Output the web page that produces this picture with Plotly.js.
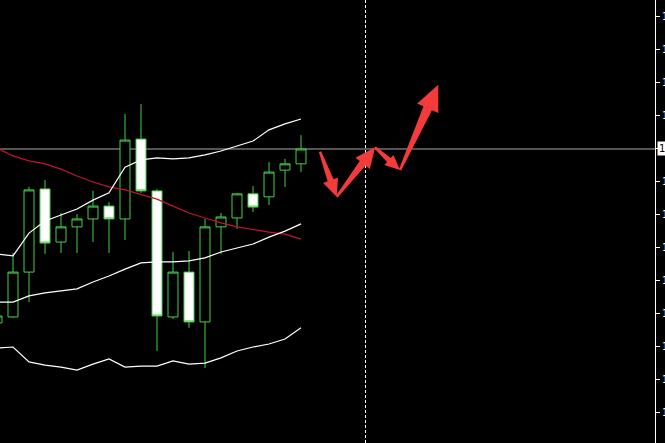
<!DOCTYPE html>
<html>
<head>
<meta charset="utf-8">
<script src="https://cdn.plot.ly/plotly-3.0.1.min.js"></script>
<style>
  html, body { margin: 0; padding: 0; background: #000; overflow: hidden; }
  #chart { width: 665px; height: 443px; }
</style>
</head>
<body>
<div id="chart"></div>
<script>
// bar index (one step = one candle)
const barIndex = [0, 1, 2, 3, 4, 5, 6, 7, 8, 9, 10, 11, 12, 13, 14, 15, 16, 17, 18, 19];

const opens  = [1.12670, 1.12688, 1.12824, 1.13076, 1.12915, 1.12961, 1.12985, 1.13024, 1.12985, 1.13227,
                1.13070, 1.12688, 1.12824, 1.12673, 1.12961, 1.12988, 1.13061, 1.13052, 1.13133, 1.13152];
const highs  = [1.12697, 1.12882, 1.13082, 1.13103, 1.13003, 1.13000, 1.13070, 1.13036, 1.13303, 1.13333,
                1.13076, 1.12885, 1.12888, 1.12985, 1.13003, 1.13064, 1.13085, 1.13158, 1.13167, 1.13239];
const lows   = [1.12661, 1.12685, 1.12733, 1.12879, 1.12882, 1.12882, 1.12915, 1.12882, 1.12921, 1.13064,
                1.12585, 1.12682, 1.12655, 1.12533, 1.12879, 1.12955, 1.13006, 1.13027, 1.13082, 1.13127];
const closes = [1.12691, 1.12824, 1.13073, 1.12912, 1.12961, 1.12985, 1.13024, 1.12985, 1.13224, 1.13070,
                1.12691, 1.12824, 1.12673, 1.12961, 1.12991, 1.13061, 1.13021, 1.13127, 1.13152, 1.13197];

// Bollinger bands
const bandUpper  = [1.12879, 1.12873, 1.12942, 1.12979, 1.12997, 1.13015, 1.13042, 1.13064, 1.13142, 1.13164,
                    1.13170, 1.13167, 1.13170, 1.13179, 1.13191, 1.13206, 1.13221, 1.13255, 1.13273, 1.13288];
const bandMiddle = [1.12733, 1.12733, 1.12752, 1.12761, 1.12767, 1.12773, 1.12794, 1.12812, 1.12833, 1.12852,
                    1.12855, 1.12855, 1.12858, 1.12867, 1.12885, 1.12897, 1.12909, 1.12930, 1.12948, 1.12970];
const bandLower  = [1.12594, 1.12597, 1.12552, 1.12542, 1.12536, 1.12527, 1.12545, 1.12561, 1.12536, 1.12539,
                    1.12539, 1.12555, 1.12545, 1.12548, 1.12564, 1.12585, 1.12597, 1.12606, 1.12621, 1.12655];

// slow moving average (red)
const movingAvg  = [1.13200, 1.13176, 1.13161, 1.13152, 1.13136, 1.13115, 1.13097, 1.13082, 1.13073, 1.13058,
                    1.13045, 1.13024, 1.13003, 1.12988, 1.12973, 1.12961, 1.12952, 1.12945, 1.12939, 1.12924];

// hand drawn forecast arrows: waypoints, each arrow goes from one point to the next
const arrowX = [20.19, 21.23, 23.63, 25.19, 27.58];
const arrowY = [1.13189, 1.13052, 1.13202, 1.13133, 1.13392];

const separatorBar = 23;
const priceTicks = [1.136, 1.135, 1.134, 1.133, 1.132, 1.131, 1.130, 1.129, 1.128, 1.127, 1.126, 1.125, 1.124];

const X_RANGE = [0.1875, 41.125];
const Y_RANGE = [1.1230606, 1.1364848];
const PLOT_W = 655;
const PLOT_H = 443;

document.addEventListener("DOMContentLoaded", () => {
  renderChart();
});

// pixel <-> data helpers, used only to shape the arrow polygons
function toPx(x, y) {
  return [
    ((x - X_RANGE[0]) / (X_RANGE[1] - X_RANGE[0])) * PLOT_W,
    ((Y_RANGE[1] - y) / (Y_RANGE[1] - Y_RANGE[0])) * PLOT_H,
  ];
}

function toData(px, py) {
  return [
    X_RANGE[0] + (px / PLOT_W) * (X_RANGE[1] - X_RANGE[0]),
    Y_RANGE[1] - (py / PLOT_H) * (Y_RANGE[1] - Y_RANGE[0]),
  ];
}

function arrowPath(x0, y0, x1, y1) {
  const [tx, ty] = toPx(x0, y0);
  const [px, py] = toPx(x1, y1);
  const len = Math.hypot(px - tx, py - ty);
  const ux = (px - tx) / len;
  const uy = (py - ty) / len;
  const nx = -uy;
  const ny = ux;

  const headLen = 9 + 0.18 * len;
  const headW = 0.9 * headLen;
  const shaftW = 0.4 * headW;
  const tailW = 2.5;
  const bx = px - ux * headLen;
  const by = py - uy * headLen;

  const pts = [
    [tx + (nx * tailW) / 2, ty + (ny * tailW) / 2],
    [bx + (nx * shaftW) / 2, by + (ny * shaftW) / 2],
    [bx + (nx * headW) / 2, by + (ny * headW) / 2],
    [px, py],
    [bx - (nx * headW) / 2, by - (ny * headW) / 2],
    [bx - (nx * shaftW) / 2, by - (ny * shaftW) / 2],
    [tx - (nx * tailW) / 2, ty - (ny * tailW) / 2],
  ].map(([a, b]) => toData(a, b));

  return "M" + pts.map((p) => p[0] + "," + p[1]).join(" L") + " Z";
}

function renderChart() {
  const lastClose = closes[closes.length - 1];
  // half a pixel so the dashed separator lands on a whole pixel column
  const halfPx = (0.5 / PLOT_W) * (X_RANGE[1] - X_RANGE[0]);

  const candles = {
    type: "candlestick",
    x: barIndex,
    open: opens,
    high: highs,
    low: lows,
    close: closes,
    increasing: { line: { color: "#44d044", width: 1 }, fillcolor: "#000000" },
    decreasing: { line: { color: "#44d044", width: 1 }, fillcolor: "#ffffff" },
    whiskerwidth: 0,
    hoverinfo: "skip",
    showlegend: false,
  };

  const lineTrace = (values, color) => ({
    type: "scatter",
    mode: "lines",
    x: barIndex,
    y: values,
    line: { color: color, width: 1.2 },
    hoverinfo: "skip",
    showlegend: false,
  });

  const arrowShapes = [];
  for (let i = 0; i < arrowX.length - 1; i++) {
    arrowShapes.push({
      type: "path",
      xref: "x",
      yref: "y",
      path: arrowPath(arrowX[i], arrowY[i], arrowX[i + 1], arrowY[i + 1]),
      fillcolor: "#f43b3b",
      line: { width: 0 },
      layer: "above",
    });
  }

  const layout = {
    width: 665,
    height: 443,
    paper_bgcolor: "#000000",
    plot_bgcolor: "#000000",
    margin: { t: 0, r: 10, b: 0, l: 0 },
    boxgap: 0.375,
    boxgroupgap: 0,
    xaxis: {
      range: X_RANGE,
      showgrid: false,
      zeroline: false,
      showticklabels: false,
      ticks: "",
      rangeslider: { visible: false },
      fixedrange: true,
    },
    yaxis: {
      side: "right",
      range: Y_RANGE,
      showgrid: false,
      zeroline: false,
      showline: true,
      linecolor: "#ffffff",
      linewidth: 1,
      ticks: "outside",
      ticklen: 4,
      tickcolor: "#ffffff",
      tickvals: priceTicks,
      tickformat: ".5f",
      tickfont: { family: "DejaVu Sans", size: 10, color: "#ffffff" },
      automargin: false,
      fixedrange: true,
    },
    shapes: [
      {
        type: "line",
        xref: "paper",
        yref: "y",
        x0: 0,
        x1: 1,
        y0: lastClose,
        y1: lastClose,
        line: { color: "#a8a8a8", width: 1 },
        layer: "below",
      },
      {
        type: "line",
        xref: "x",
        yref: "paper",
        x0: separatorBar + halfPx,
        x1: separatorBar + halfPx,
        y0: 0,
        y1: 1,
        line: { color: "#ffffff", width: 1, dash: "3px,2px" },
      },
      ...arrowShapes,
    ],
    annotations: [
      {
        xref: "paper",
        yref: "y",
        x: 1,
        y: lastClose,
        xanchor: "left",
        xshift: 2,
        text: lastClose.toFixed(5),
        showarrow: false,
        bgcolor: "#ffffff",
        font: { family: "DejaVu Sans", size: 10, color: "#000000" },
        borderpad: 1,
      },
    ],
  };

  Plotly.newPlot(
    "chart",
    [
      lineTrace(movingAvg, "#c0162a"),
      lineTrace(bandUpper, "#ffffff"),
      lineTrace(bandMiddle, "#ffffff"),
      lineTrace(bandLower, "#ffffff"),
      candles,
    ],
    layout,
    { staticPlot: true, displayModeBar: false },
  );
}
</script>
</body>
</html>
